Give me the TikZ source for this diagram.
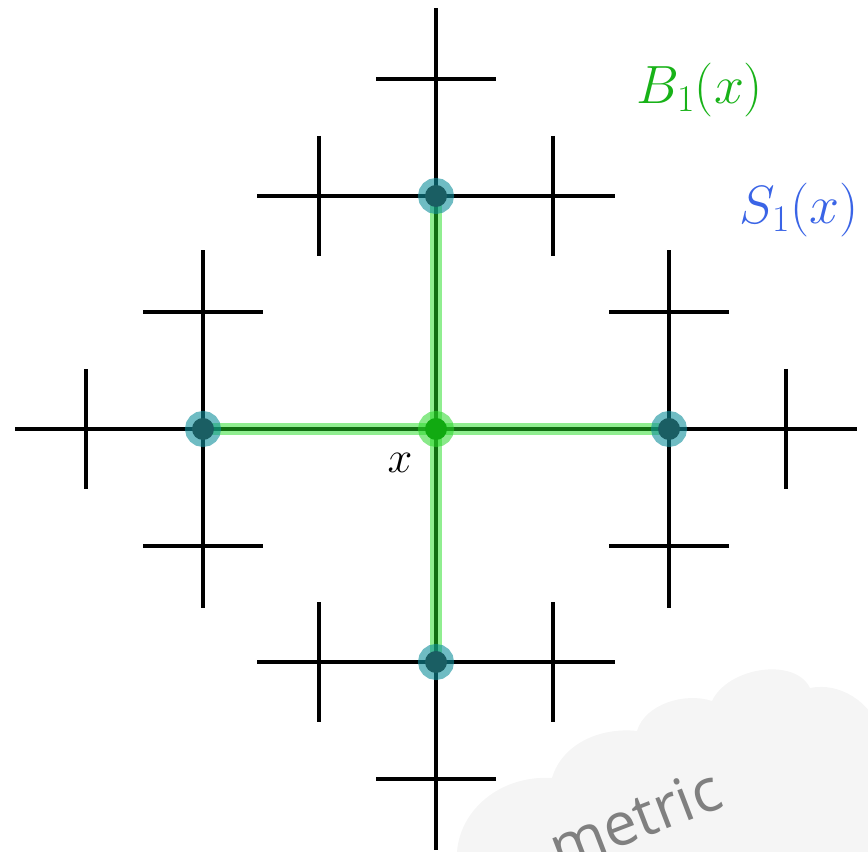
\RequirePackage{fix-cm}
\documentclass[tikz,border=0pt]{standalone}
\usepackage{fontspec}
\newfontfamily\cloudfont{Open Sans}
\usepackage{tikz}
\definecolor{ballgreen}{RGB}{24,178,24}
\definecolor{sphereblue}{RGB}{58,100,230}
\definecolor{bandgreen}{RGB}{34,221,34}
\definecolor{sitedark}{RGB}{26,94,99}
\definecolor{sitehalo}{RGB}{15,143,155}
\definecolor{rootdark}{RGB}{17,170,17}
\definecolor{roothalo}{RGB}{40,215,40}
\definecolor{cloudgray}{RGB}{245,245,245}
\definecolor{cloudtext}{RGB}{128,128,128}

\begin{document}
\begin{tikzpicture}[x=0.03cm,y=0.03cm,line width=2.6pt]
    \tikzstyle{dot} = [circle, inner sep=0pt, minimum size=0.66cm]
    \tikzstyle{site} = [dot, fill=sitedark, preaction={draw=sitehalo, draw opacity=.6, line width=11.9pt}]
    \tikzstyle{root} = [dot, fill=rootdark, preaction={draw=roothalo, draw opacity=.55, line width=11.9pt}]
    \tikzstyle{band} = [draw=bandgreen, draw opacity=.5, line width=10pt]
    \tikzstyle{lbl} = [inner sep=0pt, font=\fontsize{38}{40}\selectfont]
    \tikzstyle{biglbl} = [inner sep=0pt, font=\fontsize{46}{48}\selectfont]

    \useasboundingbox (0,0) rectangle (868,852);
    \clip (0,0) rectangle (868,852);

    % Cloud in the corner
    \fill[cloudgray] (457,0) .. controls (460,42) and (500,77) .. (552,74)
        .. controls (562,108) and (600,125) .. (637,121)
        .. controls (645,148) and (685,160) .. (712,151)
        .. controls (728,185) and (795,195) .. (810,164)
        .. controls (840,170) and (870,150) .. (880,122)
        -- (880,-20) -- (457,-20) -- cycle;
    \node[rotate=21, anchor=base east, inner sep=0pt, text=cloudtext,
        font=\cloudfont\fontsize{51}{51}\selectfont] (cloudword) at (727,46) {metric};

    % Tree
    \coordinate (o) at (436,423);
    \foreach \arm/\ang in {n/0, w/90, s/180, e/270} {
        \begin{scope}[shift={(436,423)}, rotate=\ang]
            \coordinate (\arm) at (0,233);
            \coordinate (\arm-up) at (0,350);
            \coordinate (\arm-lf) at (-117,233);
            \coordinate (\arm-rt) at (117,233);
            \coordinate (\arm-up-a) at (0,421);
            \coordinate (\arm-up-b) at (-60,350);
            \coordinate (\arm-up-c) at (60,350);
            \coordinate (\arm-lf-a) at (-179,233);
            \coordinate (\arm-lf-b) at (-117,293);
            \coordinate (\arm-lf-c) at (-117,173);
            \coordinate (\arm-rt-a) at (179,233);
            \coordinate (\arm-rt-b) at (117,293);
            \coordinate (\arm-rt-c) at (117,173);
        \end{scope}
        \draw (o) -- (\arm);
        \draw (\arm) -- (\arm-up) (\arm) -- (\arm-lf) (\arm) -- (\arm-rt);
        \draw (\arm-up) -- (\arm-up-a) (\arm-up-b) -- (\arm-up-c);
        \draw (\arm-lf) -- (\arm-lf-a) (\arm-lf-b) -- (\arm-lf-c);
        \draw (\arm-rt) -- (\arm-rt-a) (\arm-rt-b) -- (\arm-rt-c);
    }

    % Ball of radius 1
    \path[band] (w) -- (e) (n) -- (s);

    % Sites
    \node[root] (x) at (o) {};
    \node[site] (n-site) at (n) {};
    \node[site] (w-site) at (w) {};
    \node[site] (s-site) at (s) {};
    \node[site] (e-site) at (e) {};

    % Labels
    \node[lbl] (xlab) at (400,389) {$x$};
    \node[biglbl, text=ballgreen] (ball) at (700,762) {$B_1(x)$};
    \node[biglbl, text=sphereblue] (sphere) at (799,642) {$S_1(x)$};
\end{tikzpicture}
\end{document}
